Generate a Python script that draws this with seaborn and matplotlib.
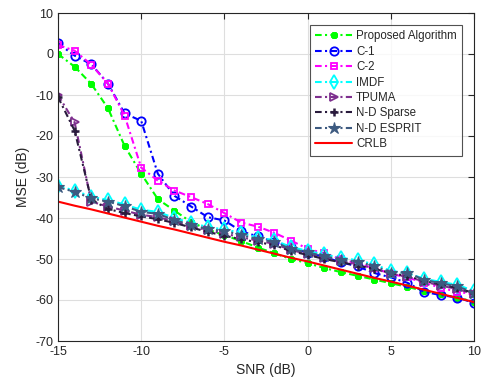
import numpy as np
import pandas as pd
import matplotlib
matplotlib.use("Agg")
import matplotlib.pyplot as plt
import seaborn as sns

snr = [-15, -14, -13, -12, -11, -10, -9, -8, -7, -6, -5, -4, -3, -2, -1,
       0, 1, 2, 3, 4, 5, 6, 7, 8, 9, 10]

proposed = [0.0, -3.1, -7.3, -13.2, -22.4, -29.2, -35.4, -38.2, -41.0, -42.8,
            -44.2, -45.6, -47.2, -48.6, -50.0, -51.0, -52.2, -53.2, -54.1, -55.0,
            -55.9, -56.8, -57.8, -58.6, -59.4, -60.4]
c1 = [2.6, -0.4, -2.5, -7.2, -14.5, -16.3, -29.2, -34.6, -37.2, -39.8,
      -40.6, -43.2, -44.5, -45.8, -47.0, -48.5, -49.5, -50.8, -51.8, -53.4,
      -54.5, -55.8, -58.0, -58.8, -59.4, -60.7]
c2 = [2.2, 0.8, -2.6, -7.2, -15.0, -27.7, -30.9, -33.3, -34.9, -36.6,
      -38.8, -41.1, -42.1, -43.6, -45.5, -47.5, -48.6, -50.0, -51.2, -52.2,
      -53.6, -54.5, -55.8, -57.0, -58.0, -58.6]
imdf = [-32.2, -33.3, -34.8, -35.6, -36.7, -38.0, -38.5, -40.0, -41.2, -42.2,
        -42.8, -43.6, -44.8, -45.4, -47.1, -48.0, -48.9, -49.7, -50.3, -51.3,
        -52.9, -53.5, -54.8, -55.6, -56.3, -57.8]
tpuma = [-10.0, -16.7, -36.0, -37.2, -38.2, -39.2, -39.8, -40.8, -42.0, -43.0,
         -43.8, -44.7, -45.5, -46.3, -47.8, -48.8, -49.8, -50.6, -51.3, -52.3,
         -53.7, -54.3, -55.5, -56.5, -57.3, -58.6]
nd_sparse = [-10.5, -18.7, -35.5, -37.8, -38.8, -39.6, -40.3, -41.2, -42.3, -43.4,
             -44.3, -45.2, -45.9, -46.6, -48.1, -49.0, -50.0, -50.8, -51.6, -52.4,
             -53.4, -54.2, -55.3, -56.2, -57.1, -58.3]
nd_esprit = [-32.5, -33.6, -35.2, -36.0, -37.1, -38.5, -39.0, -40.5, -41.7, -42.7,
             -43.2, -44.1, -45.2, -45.8, -47.6, -48.4, -49.3, -50.2, -50.7, -51.7,
             -53.3, -53.3, -55.1, -55.9, -56.7, -58.2]
crlb = [-36.0, -37.0, -37.9, -38.9, -39.9, -40.9, -41.9, -42.8, -43.8, -44.8,
        -45.8, -46.7, -47.7, -48.7, -49.7, -50.6, -51.6, -52.6, -53.6, -54.6,
        -55.5, -56.5, -57.5, -58.5, -59.5, -60.5]

labels = ["Proposed Algorithm", "C-1", "C-2", "IMDF", "TPUMA",
          "N-D Sparse", "N-D ESPRIT", "CRLB"]
xticks = [-15, -10, -5, 0, 5, 10]
yticks = [-70, -60, -50, -40, -30, -20, -10, 0, 10]

sns.set_style("white")
plt.rcParams['font.family'] = ['Liberation Sans', 'DejaVu Sans']
plt.rcParams['axes.unicode_minus'] = False

fig = plt.figure(figsize=(4.85, 3.86), dpi=100)
ax = fig.add_axes([58/485, 1-341/386, (474-58)/485, (341-13)/386])

dd = (0, (3.2, 1.6, 1.0, 1.6))
series = [
    (proposed, dict(color="#00ff00", marker=(8, 2, 0), ms=5, mew=2.0, mfc="#00ff00", ls=dd)),
    (c1, dict(color="#0000ff", marker="o", ms=6, mew=1.3, mfc="none", ls=dd)),
    (c2, dict(color="#ff00ff", marker="s", ms=4.5, mew=1.3, mfc="none", ls=dd)),
    (imdf, dict(color="#00ffff", marker="d", ms=7, mew=1.3, mfc="none", ls=dd)),
    (tpuma, dict(color="#7e2f8e", marker=">", ms=6, mew=1.3, mfc="none", ls=dd)),
    (nd_sparse, dict(color="#2a1b3d", marker="+", ms=6, mew=1.8, ls=dd)),
    (nd_esprit, dict(color="#3d5a80", marker="*", ms=9, mew=0.8, mfc="#3d5a80", ls=dd)),
    (crlb, dict(color="#ff0000", marker=None, ls="-")),
]

for (vals, st), lab in zip(series, labels):
    df = pd.DataFrame({"snr": snr, "mse": vals})
    kw = dict(color=st["color"], linestyle=st["ls"], linewidth=1.5, label=lab)
    if st.get("marker") is not None:
        kw.update(marker=st["marker"], markersize=st["ms"], markeredgewidth=st["mew"],
                  markeredgecolor=st["color"])
        if "mfc" in st:
            kw["markerfacecolor"] = st["mfc"]
    sns.lineplot(data=df, x="snr", y="mse", ax=ax, **kw)

ax.set_xlim(-15, 10)
ax.set_ylim(-70, 10)
ax.set_xticks(xticks)
ax.set_yticks(yticks)
ax.grid(True, color="#dedede", linewidth=0.8)
ax.set_axisbelow(True)
ax.tick_params(direction="in", top=True, right=True, labelsize=9, length=4, color="#262626")
for s in ax.spines.values():
    s.set_color("#262626")
    s.set_linewidth(0.8)
ax.set_xlabel("SNR (dB)", fontsize=10, color="#262626")
ax.set_ylabel("MSE (dB)", fontsize=10, color="#262626")

leg = ax.legend(loc="upper right", bbox_to_anchor=((462-58)/416, (341-25)/328),
                borderaxespad=0, fontsize=8.3,
                handlelength=3.2, frameon=True, fancybox=False, edgecolor="#262626",
                borderpad=0.45, labelspacing=0.3, handletextpad=0.35)
leg.get_frame().set_linewidth(0.8)

fig.savefig("out.png", dpi=100)
